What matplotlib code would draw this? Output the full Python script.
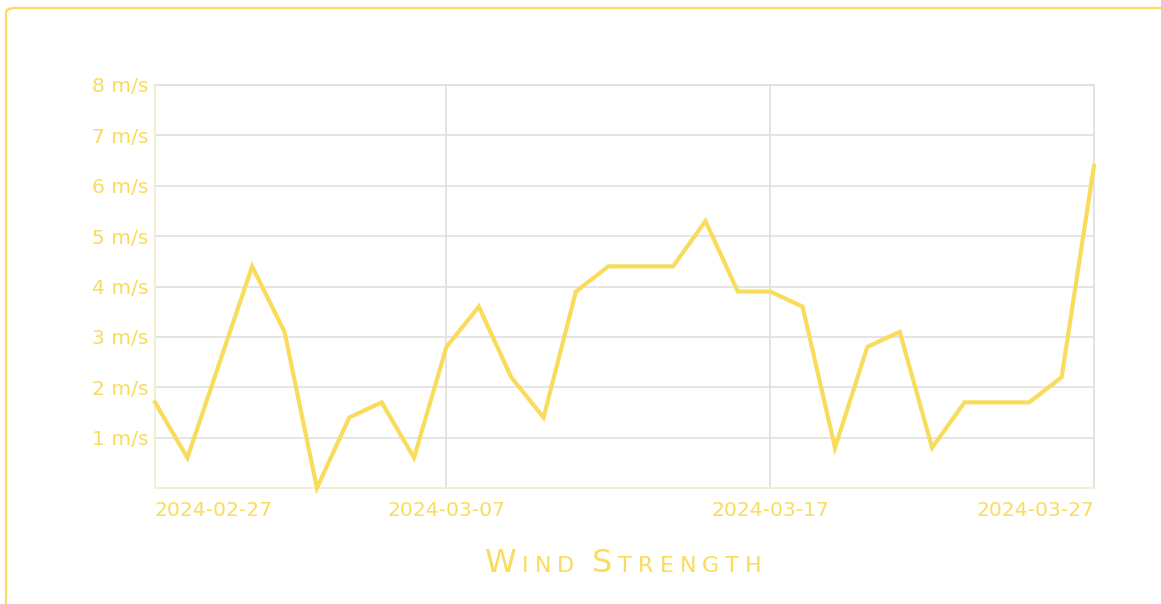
import matplotlib
matplotlib.use("Agg")
import matplotlib.pyplot as plt
import pandas as pd
from matplotlib.patches import FancyBboxPatch
from matplotlib.offsetbox import TextArea, HPacker, AnchoredOffsetbox

# data
dates = pd.date_range("2024-02-27", "2024-03-27", freq="D")
wind = [1.7, 0.6, 2.5, 4.4, 3.1, 0.0, 1.4, 1.7, 0.6, 2.8,
        3.6, 2.2, 1.4, 3.9, 4.4, 4.4, 4.4, 5.3, 3.9, 3.9,
        3.6, 0.8, 2.8, 3.1, 0.8, 1.7, 1.7, 1.7, 2.2, 6.4]
tick_dates = ["2024-02-27", "2024-03-07", "2024-03-17", "2024-03-27"]
y_ticks = [1, 2, 3, 4, 5, 6, 7, 8]

yellow = "#f9dc5c"
grid_c = "#dedede"
spine_c = "#f5eed2"

W, H = 1161, 604
fig = plt.figure(figsize=(W / 100, H / 100), dpi=100)
fig.patch.set_facecolor("white")

# rounded frame running off the right/bottom edge
frame = FancyBboxPatch((6 / W, -20 / H), (W + 20) / W, (H - 8 + 20) / H,
                       boxstyle="round,pad=0,rounding_size=0.008",
                       transform=fig.transFigure, fill=False,
                       edgecolor=yellow, linewidth=1.6)
fig.patches.append(frame)

ax = fig.add_axes([155 / W, (H - 488) / H, (1094 - 155) / W, (488 - 85) / H])
ax.plot(dates, wind, color=yellow, linewidth=3, solid_joinstyle="miter", clip_on=False, zorder=3)

ax.set_xlim(dates[0], dates[-1])
ax.set_ylim(0, 8)

ax.set_yticks(y_ticks)
ax.set_yticklabels([f"{v} m/s" for v in y_ticks])
tds = pd.to_datetime(tick_dates)
ax.set_xticks(tds)
ax.set_xticklabels(tick_dates)
labels = ax.get_xticklabels()
labels[0].set_horizontalalignment("left")
labels[-1].set_horizontalalignment("right")

ax.tick_params(axis="both", length=0, colors=yellow, labelsize=14.6)
ax.tick_params(axis="y", pad=5)
ax.tick_params(axis="x", pad=9)
ax.grid(True, color=grid_c, linewidth=1.1)
ax.set_axisbelow(True)

for side in ["top", "right"]:
    ax.spines[side].set_color(grid_c)
    ax.spines[side].set_linewidth(1.1)
for side in ["left", "bottom"]:
    ax.spines[side].set_color(spine_c)
    ax.spines[side].set_linewidth(1.5)

# small caps title, letter spaced
parts = []
for word in ["Wind", "Strength"]:
    chars = [TextArea(word[0], textprops=dict(color=yellow, fontsize=23))]
    for c in word[1:]:
        chars.append(TextArea(c.upper(), textprops=dict(color=yellow, fontsize=16)))
    parts.append(HPacker(children=chars, align="baseline", pad=0, sep=4.3))
title = HPacker(children=parts, align="baseline", pad=0, sep=13)
box = AnchoredOffsetbox(loc="center", child=title, frameon=False,
                        bbox_to_anchor=(623 / W, 1 - 563 / H),
                        bbox_transform=fig.transFigure, borderpad=0, pad=0)
fig.add_artist(box)

fig.savefig("out.png", dpi=100, facecolor="white")
